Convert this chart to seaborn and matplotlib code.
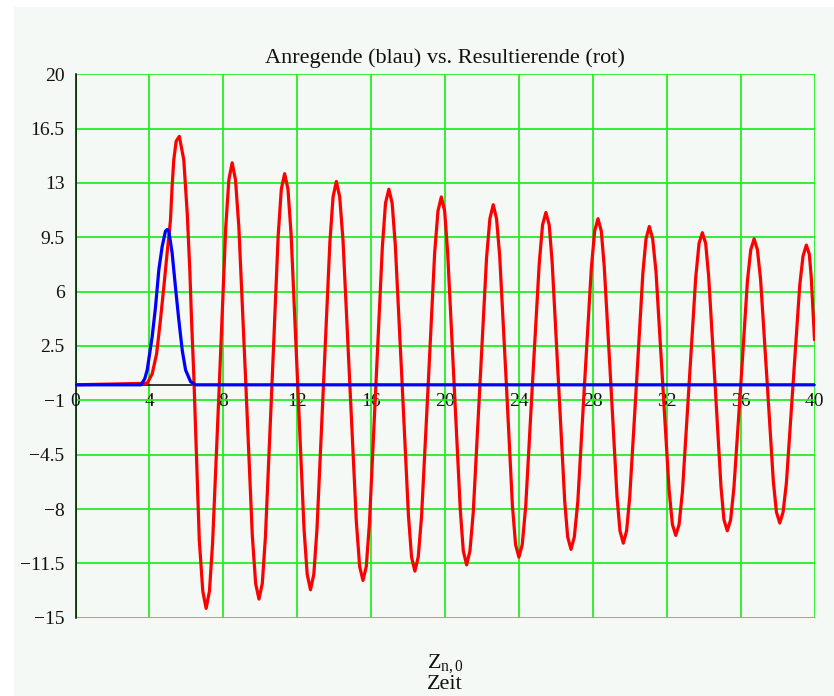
import matplotlib
matplotlib.use("Agg")
import matplotlib.pyplot as plt
from matplotlib.patches import Rectangle
import numpy as np
import pandas as pd
import seaborn as sns

# ---------------- data ----------------
title = "Anregende (blau) vs. Resultierende (rot)"
x_label_top = r"$\mathrm{Z}_{\mathrm{n,0}}$"
x_label_bottom = "Zeit"

x_ticks = [0, 4, 8, 12, 16, 20, 24, 28, 32, 36, 40]
x_tick_labels = ["0", "4", "8", "12", "16", "20", "24", "28", "32", "36", "40"]
y_ticks = [-15, -11.5, -8, -4.5, -1, 2.5, 6, 9.5, 13, 16.5, 20]
y_tick_labels = ["\u221215", "\u221211.5", "\u22128", "\u22124.5", "\u22121",
                 "2.5", "6", "9.5", "13", "16.5", "20"]

# Anregende (blue pulse)
blue_t = [0.0, 3.55, 3.75, 3.88, 4.15, 4.33, 4.51, 4.69, 4.87, 4.96, 5.05, 5.23,
          5.41, 5.59, 5.78, 5.96, 6.23, 6.50, 40.0]
blue_v = [0.0, 0.0, 0.4, 0.95, 3.1, 5.0, 7.4, 8.9, 9.9, 10.0, 9.9, 8.5,
          6.3, 4.2, 2.2, 0.95, 0.2, 0.0, 0.0]

# Resultierende (red response)
red_t = [0.0, 3.88, 4.15, 4.39, 4.60, 4.78, 4.96, 5.14, 5.23, 5.32, 5.45, 5.62,
         5.86, 6.05, 6.19, 6.28, 6.40, 6.70, 6.89, 7.07,
         7.25, 7.42, 7.78, 8.13, 8.30, 8.48,
         8.66, 8.84, 9.21, 9.57, 9.75, 9.93,
         10.11, 10.28, 10.63, 10.97, 11.14, 11.32,
         11.50, 11.67, 12.02, 12.37, 12.54, 12.72,
         12.90, 13.07, 13.42, 13.77, 13.94, 14.12,
         14.30, 14.48, 14.84, 15.20, 15.38, 15.56,
         15.74, 15.91, 16.26, 16.61, 16.78, 16.96,
         17.14, 17.31, 17.67, 18.02, 18.19, 18.37,
         18.55, 18.73, 19.09, 19.44, 19.62, 19.80,
         19.98, 20.14, 20.49, 20.83, 20.99, 21.17,
         21.35, 21.53, 21.89, 22.25, 22.43, 22.61,
         22.79, 22.96, 23.31, 23.65, 23.82, 24.00,
         24.18, 24.37, 24.73, 25.10, 25.28, 25.46,
         25.64, 25.80, 26.14, 26.48, 26.64, 26.82,
         27.00, 27.19, 27.55, 27.92, 28.10, 28.28,
         28.46, 28.62, 28.97, 29.31, 29.47, 29.65,
         29.83, 30.00, 30.36, 30.71, 30.88, 31.06,
         31.24, 31.42, 31.78, 32.13, 32.31, 32.49,
         32.67, 32.85, 33.21, 33.57, 33.75, 33.93,
         34.11, 34.27, 34.61, 34.94, 35.10, 35.28,
         35.46, 35.64, 36.01, 36.37, 36.55, 36.73,
         36.91, 37.08, 37.43, 37.77, 37.94, 38.12,
         38.30, 38.48, 38.84, 39.20, 39.38, 39.56,
         39.72, 39.82, 40.00]
red_v = [0.0, 0.1, 0.7, 2.0, 4.2, 6.3, 8.5, 10.6, 12.8, 14.5, 15.7, 16.0,
         14.5, 11.0, 7.3, 4.2, 0.7, -10.0, -13.3, -14.4,
         -13.3, -10.2, -0.1, 10.1, 13.2, 14.3,
         13.2, 10.2, 0.3, -9.7, -12.8, -13.8,
         -12.8, -9.8, -0.1, 9.6, 12.6, 13.6,
         12.6, 9.7, 0.2, -9.3, -12.2, -13.2,
         -12.2, -9.3, 0.0, 9.2, 12.1, 13.1,
         12.1, 9.3, 0.3, -8.8, -11.7, -12.6,
         -11.7, -8.9, 0.0, 8.9, 11.7, 12.6,
         11.7, 9.0, 0.3, -8.4, -11.1, -12.0,
         -11.1, -8.5, 0.0, 8.5, 11.2, 12.1,
         11.2, 8.6, 0.2, -8.1, -10.7, -11.6,
         -10.7, -8.2, 0.0, 8.2, 10.7, 11.6,
         10.7, 8.3, 0.3, -7.8, -10.3, -11.1,
         -10.3, -7.8, 0.0, 7.8, 10.3, 11.1,
         10.3, 7.9, 0.2, -7.5, -9.8, -10.6,
         -9.8, -7.5, 0.0, 7.5, 9.9, 10.7,
         9.9, 7.6, 0.2, -7.2, -9.4, -10.2,
         -9.4, -7.2, 0.0, 7.2, 9.4, 10.2,
         9.4, 7.3, 0.2, -6.8, -9.0, -9.7,
         -9.0, -6.9, 0.0, 6.9, 9.1, 9.8,
         9.1, 7.0, 0.2, -6.6, -8.7, -9.4,
         -8.7, -6.6, 0.0, 6.7, 8.7, 9.4,
         8.7, 6.8, 0.3, -6.2, -8.2, -8.9,
         -8.2, -6.3, 0.0, 6.4, 8.3, 9.0,
         8.4, 7.0, 2.9]

# ---------------- style ----------------
sns.set_theme(style="white")
plt.rcParams["font.family"] = ["Liberation Serif", "DejaVu Serif"]
plt.rcParams["mathtext.fontset"] = "custom"
plt.rcParams["mathtext.rm"] = "Liberation Serif"
plt.rcParams["mathtext.it"] = "Liberation Serif:italic"
plt.rcParams["axes.unicode_minus"] = True

BG = "#F5F9F5"
GRID = "#22EE22"

W, H = 834, 696
fig = plt.figure(figsize=(W / 100, H / 100), dpi=100, facecolor="white")
fig.patches.append(Rectangle((14 / W, 0), 1 - 14 / W, 1 - 7 / H,
                             transform=fig.transFigure, facecolor=BG,
                             edgecolor="none", zorder=-10))

left, right, top, bottom = 75.5, 814.5, 74.3, 617.7
ax = fig.add_axes([left / W, 1 - bottom / H, (right - left) / W, (bottom - top) / H])
ax.set_facecolor("none")

red_df = pd.DataFrame({"t": red_t, "v": red_v, "Kurve": "Resultierende"})
blue_df = pd.DataFrame({"t": blue_t, "v": blue_v, "Kurve": "Anregende"})

sns.lineplot(data=red_df, x="t", y="v", color="#FF0000", sort=False,
             estimator=None, linewidth=2.3, legend=False, ax=ax, zorder=3)
sns.lineplot(data=blue_df, x="t", y="v", color="#0000FF", sort=False,
             estimator=None, linewidth=2.3, legend=False, ax=ax, zorder=4)

ax.set_xlim(0, 40)
ax.set_ylim(-15, 20)
ax.set_xticks(x_ticks)
ax.set_xticklabels(x_tick_labels)
ax.set_yticks(y_ticks)
ax.set_yticklabels(y_tick_labels)

ax.grid(True, color=GRID, linewidth=1.3)
ax.set_axisbelow(True)
for gl in ax.xaxis.get_gridlines() + ax.yaxis.get_gridlines():
    gl.set_clip_on(False)

for s in ["top", "right"]:
    ax.spines[s].set_visible(False)
ax.spines["left"].set_position(("data", 0))
ax.spines["bottom"].set_position(("data", 0))
for s in ["left", "bottom"]:
    ax.spines[s].set_color("black")
    ax.spines[s].set_linewidth(1.1)
    ax.spines[s].set_zorder(2.5)

ax.tick_params(axis="both", which="major", direction="inout", length=10,
               width=1.0, color="black", labelsize=14, labelcolor="#111111")
ax.tick_params(axis="y", pad=3)
ax.tick_params(axis="x", pad=1)

ax.set_xlabel("")
ax.set_ylabel("")
ax.set_title(title, fontsize=16, pad=8, color="#111111")

cx = (left + right) / 2 / W
fig.text(cx, 1 - 668 / H, x_label_top, ha="center", va="baseline",
         fontsize=16, color="#111111")
fig.text(cx, 1 - 689 / H, x_label_bottom, ha="center", va="baseline",
         fontsize=16, color="#111111")

fig.savefig("out.png", dpi=100, facecolor=fig.get_facecolor())
